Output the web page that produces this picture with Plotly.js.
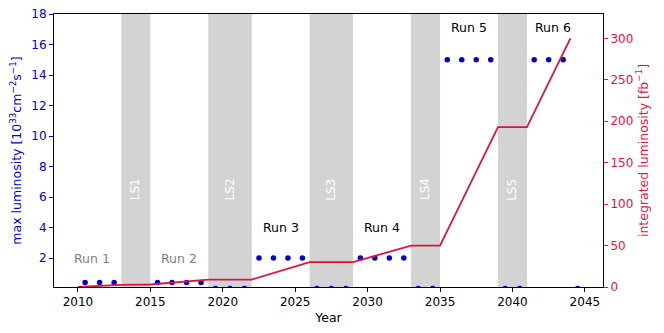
<!DOCTYPE html>
<html>
<head>
<meta charset="utf-8">
<script src="https://cdn.plot.ly/plotly-3.0.1.min.js"></script>
<style>
  body { margin: 0; background: #fff; }
  #chart { width: 664px; height: 333px; }
</style>
</head>
<body>
<div id="chart"></div>
<script>
// Peak luminosity per year (10^33 cm^-2 s^-1)
const lumiYears = [2010.5, 2011.5, 2012.5, 2015.5, 2016.5, 2017.5, 2018.5,
    2019.5, 2020.5, 2021.5, 2022.5, 2023.5, 2024.5, 2025.5,
    2026.5, 2027.5, 2028.5, 2029.5, 2030.5, 2031.5, 2032.5,
    2033.5, 2034.5, 2035.5, 2036.5, 2037.5, 2038.5,
    2039.5, 2040.5, 2041.5, 2042.5, 2043.5, 2044.5];
const peakLumi = [0.4, 0.4, 0.4, 0.4, 0.4, 0.4, 0.4,
    0, 0, 0, 2, 2, 2, 2,
    0, 0, 0, 2, 2, 2, 2,
    0, 0, 15, 15, 15, 15,
    0, 0, 15, 15, 15, 0];

// Integrated luminosity (fb^-1)
const intYears = [2010, 2013, 2015, 2019, 2022, 2026, 2029, 2033, 2035, 2039, 2041, 2044];
const intLumi = [0, 2.5, 3, 9, 9, 30, 30, 50, 50, 193, 193, 300];

// Long shutdowns
const lsNames = ['LS1', 'LS2', 'LS3', 'LS4', 'LS5'];
const lsStart = [2013, 2019, 2026, 2033, 2039];
const lsEnd = [2015, 2022, 2029, 2035, 2041];

// Run labels
const runNames = ['Run 1', 'Run 2', 'Run 3', 'Run 4', 'Run 5', 'Run 6'];
const runX = [2011, 2017, 2024, 2031, 2037, 2042.8];
const runY = [2, 2, 4, 4, 17.1, 17.1];
const runColors = ['#808080', '#808080', '#000', '#000', '#000', '#000'];

const blue = '#0000cd';
const red = '#dc143c';
const font = 'DejaVu Sans, sans-serif';

const traces = [
    {
        x: lumiYears, y: peakLumi,
        type: 'scatter', mode: 'markers',
        marker: { color: blue, size: 5.5 },
        yaxis: 'y', hoverinfo: 'skip'
    },
    {
        x: intYears, y: intLumi,
        type: 'scatter', mode: 'lines',
        line: { color: red, width: 1.8 },
        yaxis: 'y2', hoverinfo: 'skip'
    }
];

const shapes = lsNames.map((n, i) => ({
    type: 'rect', xref: 'x', yref: 'paper',
    x0: lsStart[i], x1: lsEnd[i], y0: 0, y1: 1,
    fillcolor: '#d3d3d3', line: { width: 0 }, layer: 'below'
}));

const annotations = lsNames.map((n, i) => ({
    x: (lsStart[i] + lsEnd[i]) / 2, y: 6.5, xref: 'x', yref: 'y',
    text: n, showarrow: false, textangle: -90,
    font: { family: font, size: 12, color: '#fff' }
})).concat(runNames.map((n, i) => ({
    x: runX[i], y: runY[i], xref: 'x', yref: 'y',
    text: n, showarrow: false,
    font: { family: font, size: 12.5, color: runColors[i] }
})));

const layout = {
    width: 664, height: 333,
    margin: { l: 54, r: 61, t: 14, b: 46 },
    paper_bgcolor: '#fff', plot_bgcolor: '#fff',
    showlegend: false,
    font: { family: font, size: 12, color: '#000' },
    shapes: shapes,
    annotations: annotations,
    xaxis: {
        range: [2008.35, 2046.25],
        tickvals: [2010, 2015, 2020, 2025, 2030, 2035, 2040, 2045],
        ticks: 'outside', ticklen: 4, tickcolor: '#000',
        showgrid: false, zeroline: false,
        showline: true, linecolor: '#000', linewidth: 1, mirror: true,
        title: { text: 'Year', font: { size: 12.5 }, standoff: 4 }
    },
    yaxis: {
        range: [0.1, 18],
        tickvals: [2, 4, 6, 8, 10, 12, 14, 16, 18],
        ticks: 'outside', ticklen: 4, tickcolor: blue,
        tickfont: { color: blue },
        showgrid: false, zeroline: false,
        showline: true, linecolor: '#000', linewidth: 1,
        title: {
            text: 'max luminosity [10<sup>33</sup>cm<sup>\u22122</sup>s<sup>\u22121</sup>]',
            font: { color: blue, size: 12.5 }, standoff: 6
        }
    },
    yaxis2: {
        overlaying: 'y', side: 'right',
        range: [0, 329.4],
        tickvals: [0, 50, 100, 150, 200, 250, 300],
        ticks: 'outside', ticklen: 4, tickcolor: red,
        tickfont: { color: red },
        showgrid: false, zeroline: false,
        showline: true, linecolor: '#000', linewidth: 1,
        title: {
            text: 'integrated luminosity [fb<sup>\u22121</sup>]',
            font: { color: red, size: 12.5 }, standoff: 6
        }
    }
};

Plotly.newPlot('chart', traces, layout, { staticPlot: true });
</script>
</body>
</html>
